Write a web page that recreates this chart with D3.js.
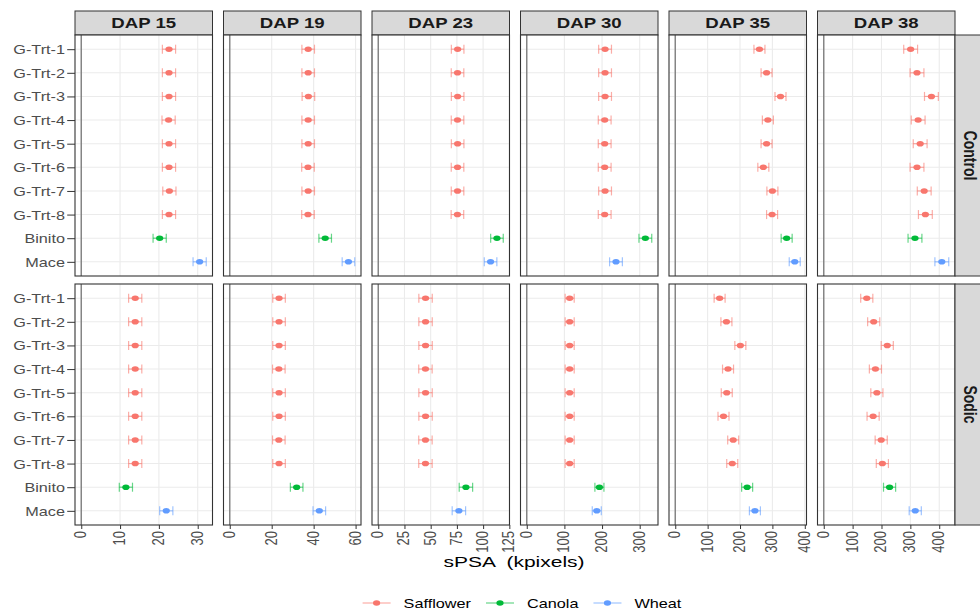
<!DOCTYPE html>
<html>
<head>
<meta charset="utf-8">
<script src="https://cdn.jsdelivr.net/npm/d3@7"></script>
<style>
  body { margin: 0; background: #fff; }
  text { font-family: "Liberation Sans", Arial, sans-serif; }
</style>
</head>
<body>
<div id="chart"></div>
<script>
// Data________________________________________________________________
const dapLabels = ['DAP 15', 'DAP 19', 'DAP 23', 'DAP 30', 'DAP 35', 'DAP 38'];
const soilLabels = ['Control', 'Sodic'];
const genotypes = ['G-Trt-1', 'G-Trt-2', 'G-Trt-3', 'G-Trt-4', 'G-Trt-5', 'G-Trt-6', 'G-Trt-7', 'G-Trt-8', 'Binito', 'Mace'];
const cropOf = ['Safflower', 'Safflower', 'Safflower', 'Safflower', 'Safflower', 'Safflower', 'Safflower', 'Safflower', 'Canola', 'Wheat'];
const cropNames = ['Safflower', 'Canola', 'Wheat'];
const cropColors = ['#F8766D', '#00BA38', '#619CFF'];

// mean sPSA (kpixels), one row per DAP, in genotype order
const controlMeans = [
    [22.6, 22.6, 22.6, 22.5, 22.6, 22.6, 22.7, 22.6, 20.2, 30.5],
    [37.4, 37.4, 37.5, 37.4, 37.4, 37.3, 37.4, 37.3, 45.5, 56.6],
    [75.7, 75.6, 75.7, 75.6, 75.7, 75.6, 75.6, 75.5, 113.2, 107.1],
    [208, 208, 208, 207, 207, 207, 208, 207, 315, 237],
    [260, 282, 325, 286, 282, 272, 300, 299, 344, 369],
    [301, 323, 373, 327, 334, 323, 348, 352, 316, 409]
];
const sodicMeans = [
    [13.9, 13.9, 13.9, 13.9, 13.9, 13.9, 13.9, 13.9, 11.5, 21.9],
    [23.5, 23.5, 23.5, 23.4, 23.5, 23.5, 23.4, 23.5, 31.9, 42.7],
    [45.1, 45.1, 45.1, 45.0, 45.1, 45.1, 45.0, 45.0, 83.6, 76.9],
    [114, 114, 114, 114, 114, 114, 114, 114, 193, 186],
    [137, 158, 201, 163, 159, 149, 179, 176, 222, 246],
    [149, 173, 220, 179, 184, 171, 199, 203, 228, 317]
];
// half width of the error bars, per DAP
const controlErr = [1.7, 3.0, 6.0, 17, 17, 24];
const sodicErr = [1.7, 3.0, 6.4, 12, 17, 21];
// x tick labels, per DAP column
const xTickValues = [
    [0, 10, 20, 30],
    [0, 20, 40, 60],
    [0, 25, 50, 75, 100, 125],
    [0, 100, 200, 300],
    [0, 100, 200, 300, 400],
    [0, 100, 200, 300, 400]
];

// Layout______________________________________________________________
const width = 980;
const height = 611;
const plotLeft = 75;
const plotRight = 955;
const colGap = 11;
const panelW = (plotRight - plotLeft - 5 * colGap) / 6;
const stripTop = 11;
const stripH = 24;
const rowTops = [35, 284];
const panelH = 241;
const sx = 1.3;   // the reference is stretched sideways
const axisGrey = '#4D4D4D';
const color = d3.scaleOrdinal().domain(cropNames).range(cropColors);

const svg = d3.select('#chart')
    .append('svg')
    .attr('width', width)
    .attr('height', height);

const colX = i => plotLeft + i * (panelW + colGap);

// Panels______________________________________________________________
dapLabels.forEach((dap, c) => {
    const x0 = colX(c);
    const hi = d3.max([
        ...controlMeans[c].map(v => v + controlErr[c]),
        ...sodicMeans[c].map(v => v + sodicErr[c])
    ]);
    const span = hi - 0;
    const x = d3.scaleLinear()
        .domain([0 - 0.05 * span, hi + 0.05 * span])
        .range([x0, x0 + panelW]);

    // strip on top
    svg.append('rect')
        .attr('x', x0).attr('y', stripTop)
        .attr('width', panelW).attr('height', stripH)
        .attr('fill', '#D9D9D9')
        .attr('stroke', '#333').attr('stroke-width', 1);
    svg.append('text')
        .attr('transform', `translate(${x0 + panelW / 2},${stripTop + stripH / 2 + 5}) scale(1.33,1)`)
        .attr('text-anchor', 'middle')
        .attr('font-size', 14)
        .attr('font-weight', 'bold')
        .attr('fill', '#1A1A1A')
        .text(dap);

    soilLabels.forEach((soil, r) => {
        const top = rowTops[r];
        const means = r === 0 ? controlMeans[c] : sodicMeans[c];
        const err = r === 0 ? controlErr[c] : sodicErr[c];
        const y = d3.scalePoint()
            .domain(genotypes)
            .range([top, top + panelH])
            .padding(0.6);

        const g = svg.append('g');
        g.append('rect')
            .attr('x', x0).attr('y', top)
            .attr('width', panelW).attr('height', panelH)
            .attr('fill', '#fff');

        // grid
        g.selectAll('.vgrid')
            .data(xTickValues[c])
            .enter()
            .append('line')
            .attr('x1', d => x(d)).attr('x2', d => x(d))
            .attr('y1', top).attr('y2', top + panelH)
            .attr('stroke', '#EBEBEB').attr('stroke-width', 1.1);
        g.selectAll('.hgrid')
            .data(genotypes)
            .enter()
            .append('line')
            .attr('x1', x0).attr('x2', x0 + panelW)
            .attr('y1', d => y(d)).attr('y2', d => y(d))
            .attr('stroke', '#EBEBEB').attr('stroke-width', 1.1);

        // line at zero
        g.append('line')
            .attr('x1', x(0)).attr('x2', x(0))
            .attr('y1', top).attr('y2', top + panelH)
            .attr('stroke', '#7F7F7F').attr('stroke-width', 1.4);

        // error bars and points
        const rows = genotypes.map((gen, i) => ({ gen: gen, crop: cropOf[i], mean: means[i], err: err }));
        const bars = g.selectAll('.bar')
            .data(rows)
            .enter()
            .append('g')
            .attr('stroke', d => color(d.crop))
            .attr('stroke-opacity', 0.6)
            .attr('stroke-width', 1.2);
        bars.append('line')
            .attr('x1', d => x(d.mean - d.err)).attr('x2', d => x(d.mean + d.err))
            .attr('y1', d => y(d.gen)).attr('y2', d => y(d.gen));
        bars.append('line')
            .attr('x1', d => x(d.mean - d.err)).attr('x2', d => x(d.mean - d.err))
            .attr('y1', d => y(d.gen) - 4.5).attr('y2', d => y(d.gen) + 4.5);
        bars.append('line')
            .attr('x1', d => x(d.mean + d.err)).attr('x2', d => x(d.mean + d.err))
            .attr('y1', d => y(d.gen) - 4.5).attr('y2', d => y(d.gen) + 4.5);
        g.selectAll('.pt')
            .data(rows)
            .enter()
            .append('ellipse')
            .attr('cx', d => x(d.mean))
            .attr('cy', d => y(d.gen))
            .attr('rx', 3.6).attr('ry', 2.8)
            .attr('fill', d => color(d.crop));

        // border
        g.append('rect')
            .attr('x', x0).attr('y', top)
            .attr('width', panelW).attr('height', panelH)
            .attr('fill', 'none')
            .attr('stroke', '#333').attr('stroke-width', 1.1);

        // y axis on the first column
        if (c === 0) {
            const yAxis = svg.append('g')
                .attr('transform', `translate(${x0},0)`)
                .call(d3.axisLeft(y).tickSize(6).tickPadding(0));
            yAxis.select('.domain').remove();
            yAxis.selectAll('line').attr('stroke', '#333').attr('transform', `scale(${sx},1)`);
            yAxis.selectAll('text')
                .attr('x', null)
                .attr('dy', null)
                .attr('transform', `translate(-10,4.5) scale(${sx},1)`)
                .attr('font-size', 12.5)
                .attr('fill', axisGrey)
                .attr('font-family', '"Liberation Sans", Arial, sans-serif');
        }

        // right strip on the last column
        if (c === 5) {
            svg.append('rect')
                .attr('x', plotRight).attr('y', top)
                .attr('width', 40).attr('height', panelH)
                .attr('fill', '#D9D9D9')
                .attr('stroke', '#333').attr('stroke-width', 1);
            svg.append('text')
                .attr('transform', `translate(${plotRight + 9},${top + panelH / 2}) scale(1.25,1) rotate(90)`)
                .attr('text-anchor', 'middle')
                .attr('font-size', 14)
                .attr('font-weight', 'bold')
                .attr('fill', '#1A1A1A')
                .text(soil);
        }

        // x axis on the bottom row
        if (r === 1) {
            const xAxis = svg.append('g')
                .attr('transform', `translate(0,${top + panelH})`)
                .call(d3.axisBottom(x).tickValues(xTickValues[c]).tickSize(4).tickFormat(d3.format('d')));
            xAxis.select('.domain').remove();
            xAxis.selectAll('line').attr('stroke', '#333');
            xAxis.selectAll('text')
                .attr('y', null)
                .attr('dy', null)
                .attr('x', null)
                .attr('text-anchor', 'end')
                .attr('transform', `translate(4.5,6) scale(${sx},1) rotate(-90)`)
                .attr('font-size', 13)
                .attr('fill', axisGrey)
                .attr('font-family', '"Liberation Sans", Arial, sans-serif');
        }
    });
});

// Axis title__________________________________________________________
svg.append('text')
    .attr('transform', `translate(${(plotLeft + plotRight) / 2 - 1},567) scale(1.4,1)`)
    .attr('text-anchor', 'middle')
    .attr('font-size', 15)
    .attr('fill', '#000')
    .style('white-space', 'pre')
    .text('sPSA  (kpixels)');

// Legend______________________________________________________________
const legend = svg.append('g');
const keyW = 28;
let cursor = 0;
const items = cropNames.map(name => {
    const item = legend.append('g');
    item.append('line')
        .attr('x1', 0).attr('x2', keyW)
        .attr('y1', 0).attr('y2', 0)
        .attr('stroke', color(name)).attr('stroke-opacity', 0.6).attr('stroke-width', 1.2);
    item.append('ellipse')
        .attr('cx', keyW / 2).attr('cy', 0)
        .attr('rx', 3.6).attr('ry', 2.8)
        .attr('fill', color(name));
    const t = item.append('text')
        .attr('transform', `translate(${keyW + 13},4.5) scale(${sx},1)`)
        .attr('font-size', 12.5)
        .attr('fill', '#000')
        .text(name);
    const w = keyW + 13 + t.node().getComputedTextLength() * sx;
    item.attr('transform', `translate(${cursor},0)`);
    cursor += w + 15;
    return item;
});
const legendW = cursor - 15;
legend.attr('transform', `translate(${522 - legendW / 2},603)`);
</script>
</body>
</html>
